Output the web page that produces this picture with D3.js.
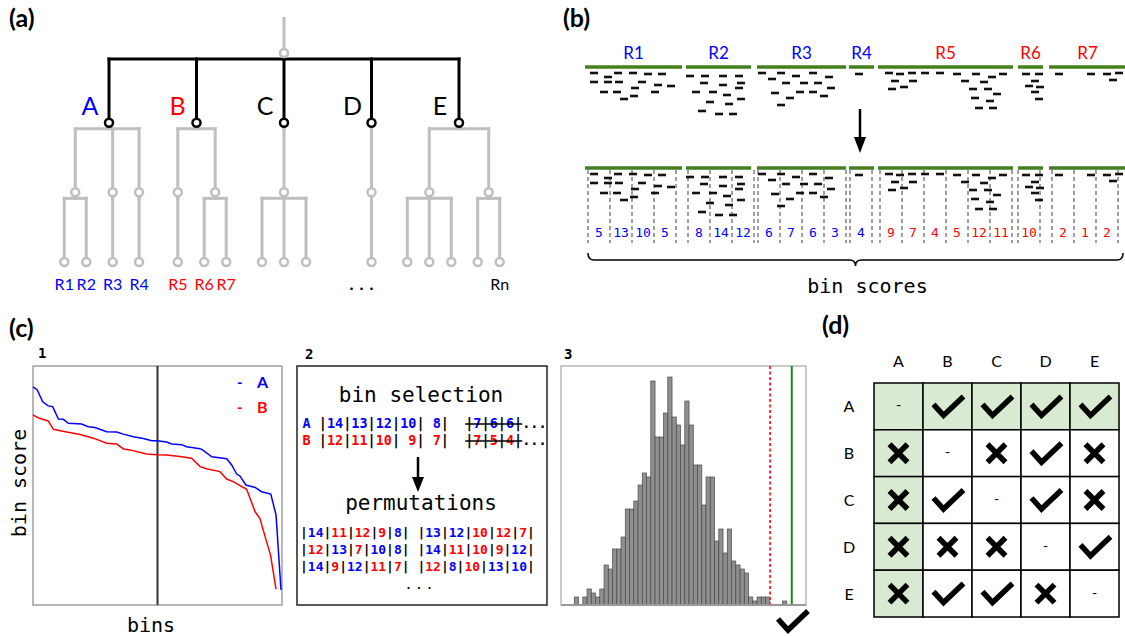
<!DOCTYPE html>
<html>
<head>
<meta charset="utf-8">
<script src="https://cdn.jsdelivr.net/npm/d3@7"></script>
<style>
  body { margin: 0; background: #fff; }
  svg { display: block; }
</style>
</head>
<body>
<svg width="1125" height="636"></svg>
<script>
const BLUE = "#0000ff", RED = "#ff0000", GRAY = "#bfbfbf", BARGREEN = "#45801f";
const SANS = "Lato, 'Open Sans', sans-serif";
const MONO = "'DejaVu Sans Mono', monospace";

// ---- (a) dendrogram: clusters and the sub-trees below them
const clusterNames = ["A", "B", "C", "D", "E"];
const clusterColors = [BLUE, RED, "#000", "#000", "#000"];
const clusterGroups = [
  [["R1", "R2"], ["R3"], ["R4"]],
  [["R5"], ["R6", "R7"]],
  [["c1", "c2", "c3"]],
  [["d1"]],
  [["e1", "e2", "e3"], ["e4", "Rn"]]
];

// ---- (b) regions, reads ([position, stack depth]) and bin scores
const regionNames = ["R1", "R2", "R3", "R4", "R5", "R6", "R7"];
const regionCluster = [0, 0, 0, 0, 1, 1, 1];
const regionStart = [0, 101, 172, 264, 293, 433, 464];
const regionEnd = [97, 166, 261, 289, 428, 458, 541];
const readsR1 = [[9,0],[23,4],[33,0],[48,0],[63,1],[77,1],[9,9],[23,9],[34,9],[57,9],[50,15],[73,12],[86,13],[19,19],[32,19],[70,19],[39,26],[49,23]];
const readsR2 = [[105,3],[120,3],[138,3],[154,3],[119,10],[138,12],[156,10],[154,15],[111,19],[128,19],[142,22],[156,26],[125,29],[144,31],[117,38],[134,41],[148,41]];
const readsR3 = [[177,0],[187,6],[196,0],[211,3],[228,0],[244,4],[201,10],[219,10],[233,10],[246,15],[190,20],[205,25],[215,19],[228,19],[239,23],[196,32]];
const readsR4 = [[274,1]];
const readsR5 = [[304,0],[315,1],[327,0],[340,0],[355,0],[372,1],[391,1],[407,4],[418,1],[310,8],[328,8],[380,8],[399,9],[307,16],[319,14],[388,16],[403,16],[412,21],[390,25],[405,28],[394,35],[408,35]];
const readsR6 = [[441,1],[454,1],[450,8],[444,13],[455,14],[450,19],[454,26]];
const readsR7 = [[474,1],[506,1],[522,1],[534,0],[528,7]];
const regionReads = [readsR1, readsR2, readsR3, readsR4, readsR5, readsR6, readsR7];
const binSize = 22;
const binStart = [3, 103, 173, 265, 295, 433, 467];
const binScores = [[5, 13, 10, 5], [8, 14, 12], [6, 7, 6, 3], [4], [9, 7, 4, 5, 12, 11], [10], [2, 1, 2]];

// ---- (c1) sorted bin scores of clusters A and B
const binsA = [0, 1.7, 3.9, 6.1, 7.9, 10.2, 12.2, 14.2, 19.5, 22.2, 24.9, 29.6, 33.6, 36.3, 40.3, 44.3, 47.7, 49.7, 53.7, 55.7, 59.7, 61.7, 67.1, 68.1, 71.8, 77.8, 79.8, 81.8, 83.1, 85.5, 89.2, 91.8, 95.5, 97.6, 99.6];
const scoresA = [9.13, 9.0, 8.5, 8.33, 8.3, 7.78, 7.77, 7.6, 7.57, 7.46, 7.43, 7.25, 7.24, 7.15, 7.04, 6.97, 6.87, 6.87, 6.82, 6.74, 6.71, 6.62, 6.54, 6.49, 6.2, 6.12, 5.86, 5.48, 5.4, 5.02, 4.92, 4.74, 4.64, 3.77, 0.63];
const binsB = [0, 2.5, 6.1, 8.2, 13.5, 18.9, 22.9, 25.6, 29.6, 33.6, 36.3, 38.9, 45.6, 49.7, 53.7, 59.0, 63.7, 67.1, 69.7, 75.1, 77.8, 80.4, 85.8, 89.2, 91.1, 93.8, 95.4, 97.6];
const scoresB = [7.95, 7.81, 7.70, 7.35, 7.24, 7.13, 7.02, 6.93, 6.77, 6.74, 6.53, 6.49, 6.32, 6.29, 6.28, 6.21, 6.14, 5.79, 5.70, 5.58, 5.27, 5.16, 4.84, 3.90, 3.63, 2.65, 2.09, 0.66];

// ---- (c2) bin selection and permutations
const selectedA = [14, 13, 12, 10, 8], droppedA = [7, 6, 6];
const selectedB = [12, 11, 10, 9, 7], droppedB = [7, 5, 4];
const permValues = [[14, 11, 12, 9, 8], [13, 12, 10, 12, 7], [12, 13, 7, 10, 8], [14, 11, 10, 9, 12], [14, 9, 12, 11, 7], [12, 8, 10, 13, 10]];
const permSource = ["ABBBA", "AABBB", "BABAA", "ABBBA", "ABABB", "BABAA"];

// ---- (c3) permutation histogram
const histStart = 3.13;
const histCounts = [2,0,2,4,3,2,4,10,9,14,14,17,24,24,26,30,33,32,56,42,42,48,57,47,45,40,51,45,35,35,25,32,32,16,19,13,19,11,10,9,8,2,1,2,2,2,0,0,0,1];
const threshold = 49.2, observed = 54.3;

// ---- (d) pairwise test results
const tableNames = ["A", "B", "C", "D", "E"];
const tableResults = [
  ["-", "y", "y", "y", "y"],
  ["n", "-", "n", "y", "n"],
  ["n", "y", "-", "y", "n"],
  ["n", "n", "n", "-", "y"],
  ["n", "y", "y", "n", "-"]
];

const svg = d3.select("svg");
svg.append("rect").attr("width", 1125).attr("height", 636).attr("fill", "#fff");

function panelLabel(x, y, t) {
  svg.append("text").attr("x", x).attr("y", y).text(t)
    .style("font-family", SANS).style("font-size", "25px").style("font-weight", "bold");
}
panelLabel(9, 27, "(a)");
panelLabel(563, 27, "(b)");
panelLabel(9, 337, "(c)");
panelLabel(822, 334, "(d)");

// ================= (a) =================
const gA = svg.append("g");
const xCluster = d3.scalePoint().domain(clusterNames).range([109, 459]);
const yDepth = d3.scaleLinear().domain([0, 3]).range([53, 262]);

const root = d3.hierarchy({
  name: "root",
  children: clusterNames.map((c, i) => ({
    name: c, idx: i,
    children: clusterGroups[i].map(g => ({ name: "", children: g.map(n => ({ name: n })) }))
  }))
});
const subLayout = d3.cluster().nodeSize([22, 1])
  .separation((a, b) => a.parent === b.parent ? 1 : 1.2);
root.children.forEach(c => {
  subLayout(c);
  const cx = xCluster(c.data.name);
  c.descendants().forEach(n => { n.x += cx; });
});
root.x = d3.mean(root.children, c => c.x);

// root stem
gA.append("line").attr("x1", root.x).attr("x2", root.x)
  .attr("y1", 17).attr("y2", yDepth(0) - 4)
  .attr("stroke", GRAY).attr("stroke-width", 3);

root.descendants().filter(d => d.children).forEach(p => {
  const col = p.depth === 0 ? "#000" : GRAY;
  const by = yDepth(p.depth) + 6;
  const xs = p.children.map(c => c.x);
  const line = (x1, y1, x2, y2) => gA.append("line")
    .attr("x1", x1).attr("y1", y1).attr("x2", x2).attr("y2", y2)
    .attr("stroke", col).attr("stroke-width", 3).attr("stroke-linecap", "square");
  line(p.x, yDepth(p.depth), p.x, by);
  line(d3.min(xs), by, d3.max(xs), by);
  p.children.forEach(c => line(c.x, by, c.x, yDepth(c.depth)));
});

gA.selectAll("circle.node")
  .data(root.descendants())
  .join("circle")
  .attr("class", "node")
  .attr("cx", d => d.x).attr("cy", d => yDepth(d.depth))
  .attr("r", 4)
  .attr("fill", "#fff")
  .attr("stroke", d => d.depth === 1 ? "#000" : GRAY)
  .attr("stroke-width", 2.5);

gA.selectAll("text.cluster")
  .data(root.children)
  .join("text")
  .attr("class", "cluster")
  .attr("x", d => d.x - 19).attr("y", 115)
  .attr("text-anchor", "middle")
  .attr("fill", d => clusterColors[d.data.idx])
  .style("font-family", SANS).style("font-size", "25px")
  .text(d => d.data.name);

gA.selectAll("text.leaf")
  .data(root.leaves().filter(d => d.data.name[0] === "R"))
  .join("text")
  .attr("class", "leaf")
  .attr("x", d => d.x).attr("y", 290)
  .attr("text-anchor", "middle")
  .attr("fill", d => clusterColors[d.parent.parent.data.idx])
  .style("font-family", SANS).style("font-size", "16px")
  .text(d => d.data.name);

const dLeaf = root.leaves().find(d => d.data.name === "d1");
gA.append("text").attr("x", dLeaf.x - 7).attr("y", 290)
  .attr("text-anchor", "middle")
  .style("font-family", SANS).style("font-size", "17px").style("font-weight", "bold")
  .style("letter-spacing", "6px").text("...");

// ================= (b) =================
const gB = svg.append("g");
const xGen = d3.scaleLinear().domain([0, 541]).range([585, 1126]);
const yStack = d3.scaleLinear().domain([0, 40]).range([0, 40]);
const tracks = [{ bar: 67, reads: 73 }, { bar: 168, reads: 174 }];
const regionColor = i => regionCluster[i] === 0 ? BLUE : RED;

gB.selectAll("text.region")
  .data(regionNames)
  .join("text")
  .attr("class", "region")
  .attr("x", (d, i) => xGen((regionStart[i] + regionEnd[i]) / 2))
  .attr("y", 59)
  .attr("text-anchor", "middle")
  .attr("fill", (d, i) => regionColor(i))
  .style("font-family", SANS).style("font-size", "17px")
  .text(d => d);

// bin boundaries (bottom track)
regionNames.forEach((r, i) => {
  const n = binScores[i].length;
  d3.range(n + 1).forEach(k => {
    const x = xGen(binStart[i] + k * binSize);
    gB.append("line").attr("x1", x).attr("x2", x).attr("y1", 170).attr("y2", 243)
      .attr("stroke", "#808080").attr("stroke-width", 1.5).attr("stroke-dasharray", "4,3");
  });
  binScores[i].forEach((s, k) => {
    gB.append("text")
      .attr("x", xGen(binStart[i] + (k + 0.5) * binSize)).attr("y", 237)
      .attr("text-anchor", "middle")
      .attr("fill", regionColor(i))
      .style("font-family", MONO).style("font-size", "13px")
      .text(s);
  });
});

tracks.forEach(tr => {
  regionNames.forEach((r, i) => {
    gB.append("line")
      .attr("x1", xGen(regionStart[i])).attr("x2", xGen(regionEnd[i]))
      .attr("y1", tr.bar).attr("y2", tr.bar)
      .attr("stroke", BARGREEN).attr("stroke-width", 3.5);
    gB.selectAll(null)
      .data(regionReads[i])
      .join("rect")
      .attr("x", d => xGen(d[0]) - 4)
      .attr("y", d => tr.reads + yStack(d[1]) - 1.3)
      .attr("width", 8).attr("height", 2.6)
      .attr("fill", "#111");
  });
});

// arrow between tracks
gB.append("line").attr("x1", 860).attr("x2", 860).attr("y1", 109).attr("y2", 140)
  .attr("stroke", "#000").attr("stroke-width", 2.5);
gB.append("path").attr("d", "M854,137 L866,137 L860,153 Z").attr("fill", "#000");

// brace
const bx0 = xGen(binStart[0]), bx1 = 1123, bm = (bx0 + bx1) / 2;
gB.append("path")
  .attr("d", `M${bx0},253 Q${bx0},260 ${bx0 + 6},260 L${bm - 6},260 Q${bm},260 ${bm},266 Q${bm},260 ${bm + 6},260 L${bx1 - 6},260 Q${bx1},260 ${bx1},253`)
  .attr("fill", "none").attr("stroke", "#000").attr("stroke-width", 1.5);
gB.append("text").attr("x", bm + 12).attr("y", 293).attr("text-anchor", "middle")
  .style("font-family", MONO).style("font-size", "20px").text("bin scores");

// ================= (c1) =================
const g1 = svg.append("g");
const x1 = d3.scaleLinear().domain([0, 100]).range([33, 282]);
const y1 = d3.scaleLinear().domain([0, 10]).range([605, 366]);
g1.append("text").attr("x", 38).attr("y", 358)
  .style("font-family", MONO).style("font-size", "14px").style("font-weight", "bold").text("1");
g1.append("rect").attr("x", 33).attr("y", 366).attr("width", 249).attr("height", 239)
  .attr("fill", "none").attr("stroke", "#a0a0a0").attr("stroke-width", 1.5);
g1.append("line").attr("x1", x1(50)).attr("x2", x1(50)).attr("y1", 366).attr("y2", 605)
  .attr("stroke", "#333").attr("stroke-width", 2);
const lineGen = d3.line().x(d => x1(d[0])).y(d => y1(d[1]));
g1.append("path").attr("d", lineGen(d3.zip(binsB, scoresB)))
  .attr("fill", "none").attr("stroke", RED).attr("stroke-width", 1.5);
g1.append("path").attr("d", lineGen(d3.zip(binsA, scoresA)))
  .attr("fill", "none").attr("stroke", BLUE).attr("stroke-width", 1.5);
[["A", BLUE, 388], ["B", RED, 413]].forEach(([t, c, y]) => {
  g1.append("text").attr("x", 237).attr("y", y).attr("fill", c)
    .style("font-family", SANS).style("font-size", "15px").style("font-weight", "bold").text("-");
  g1.append("text").attr("x", 257).attr("y", y).attr("fill", c)
    .style("font-family", SANS).style("font-size", "16px").style("font-weight", "bold").text(t);
});
g1.append("text").attr("transform", "translate(26,483) rotate(-90)")
  .attr("text-anchor", "middle")
  .style("font-family", MONO).style("font-size", "20px").text("bin score");
g1.append("text").attr("x", 151).attr("y", 632).attr("text-anchor", "middle")
  .style("font-family", MONO).style("font-size", "20px").text("bins");

// ================= (c2) =================
const g2 = svg.append("g");
g2.append("text").attr("x", 305).attr("y", 359)
  .style("font-family", MONO).style("font-size", "14px").style("font-weight", "bold").text("2");
g2.append("rect").attr("x", 297).attr("y", 366).attr("width", 250).attr("height", 239)
  .attr("fill", "none").attr("stroke", "#222").attr("stroke-width", 1.5);
g2.append("text").attr("x", 421).attr("y", 402).attr("text-anchor", "middle")
  .style("font-family", MONO).style("font-size", "21px").text("bin selection");
g2.append("text").attr("x", 421).attr("y", 510).attr("text-anchor", "middle")
  .style("font-family", MONO).style("font-size", "21px").text("permutations");

function groupParts(vals, colorOf, pad) {
  const parts = [];
  vals.forEach((v, k) => {
    parts.push(["|", "#000"]);
    parts.push([pad ? String(v).padStart(2) : String(v), colorOf(k)]);
  });
  parts.push(["|", "#000"]);
  return parts;
}
function monoText(x, y, size, parts) {
  const t = g2.append("text").attr("x", x).attr("y", y)
    .style("font-family", MONO).style("font-size", size + "px").style("font-weight", "bold")
    .style("white-space", "pre");
  parts.forEach(p => t.append("tspan").attr("fill", p[1]).text(p[0]));
  return t;
}
[["A", selectedA, droppedA, BLUE, 428], ["B", selectedB, droppedB, RED, 445]].forEach(([name, sel, drop, col, y]) => {
  const t = monoText(302.5, y, 13.5, [[name + " ", col]].concat(groupParts(sel, () => col, true)));
  const w = t.node().getComputedTextLength();
  const cw = w / 18;
  const d = monoText(302.5 + 20 * cw, y, 13.5, groupParts(drop, () => col, false));
  const dw = d.node().getComputedTextLength();
  monoText(302.5 + 20 * cw + dw, y, 13.5, [["...", "#000"]]);
  g2.append("line").attr("x1", 302.5 + 20 * cw).attr("x2", 302.5 + 20 * cw + dw)
    .attr("y1", y - 4).attr("y2", y - 4).attr("stroke", "#000").attr("stroke-width", 1.5);
});
g2.append("line").attr("x1", 418).attr("x2", 418).attr("y1", 457).attr("y2", 480)
  .attr("stroke", "#000").attr("stroke-width", 2.5);
g2.append("path").attr("d", "M412,477 L424,477 L418,492 Z").attr("fill", "#000");

const permRowY = [537, 554, 571];
permRowY.forEach((y, r) => {
  const a = 2 * r, b = 2 * r + 1;
  const colorOf = s => k => permSource[s][k] === "A" ? BLUE : RED;
  const parts = groupParts(permValues[a], colorOf(a), false)
    .concat([[" ", "#000"]])
    .concat(groupParts(permValues[b], colorOf(b), false));
  monoText(300, y, 13, parts);
});
g2.append("text").attr("x", 420).attr("y", 589).attr("text-anchor", "middle")
  .style("font-family", MONO).style("font-size", "14px").style("letter-spacing", "2px").text("...");

// ================= (c3) =================
const g3 = svg.append("g");
const xh = d3.scaleLinear().domain([0, 57.65]).range([561, 806]);
const yh = d3.scaleLinear().domain([0, 60]).range([605, 365]);
g3.append("text").attr("x", 564).attr("y", 359)
  .style("font-family", MONO).style("font-size", "14px").style("font-weight", "bold").text("3");
g3.append("rect").attr("x", 561).attr("y", 366).attr("width", 245).attr("height", 239)
  .attr("fill", "none").attr("stroke", "#a6a6a6").attr("stroke-width", 1.2);
g3.selectAll("rect.bar")
  .data(histCounts.map((c, i) => ({ c, x0: histStart + i })).filter(d => d.c > 0))
  .join("rect")
  .attr("class", "bar")
  .attr("x", d => xh(d.x0)).attr("width", d => xh(d.x0 + 1) - xh(d.x0))
  .attr("y", d => yh(d.c)).attr("height", d => yh(0) - yh(d.c))
  .attr("fill", "#8f8f8f").attr("stroke", "#4a4a4a").attr("stroke-width", 0.7);
g3.append("line").attr("x1", 561).attr("x2", 806).attr("y1", 605).attr("y2", 605)
  .attr("stroke", "#999").attr("stroke-width", 2);
g3.append("line").attr("x1", xh(threshold)).attr("x2", xh(threshold)).attr("y1", 366).attr("y2", 604)
  .attr("stroke", "#ff2020").attr("stroke-width", 1.8).attr("stroke-dasharray", "3,2.5");
g3.append("line").attr("x1", xh(observed)).attr("x2", xh(observed)).attr("y1", 366).attr("y2", 604)
  .attr("stroke", "#1a8c1a").attr("stroke-width", 2);

const checkPath = "M-14,-2 L-4,9 L16,-10";
const crossPath = "M-9,-9 L9,9 M9,-9 L-9,9";
g3.append("path").attr("d", checkPath).attr("transform", "translate(792,621)")
  .attr("fill", "none").attr("stroke", "#000").attr("stroke-width", 5.5);

// ================= (d) =================
const gD = svg.append("g");
const xc = d3.scaleBand().domain(tableNames).range([874, 1119]);
const yr = d3.scaleBand().domain(tableNames).range([383, 617]);
const cells = [];
tableResults.forEach((row, i) => row.forEach((v, j) => cells.push({ r: tableNames[i], c: tableNames[j], i, j, v })));
gD.selectAll("rect.cell")
  .data(cells)
  .join("rect")
  .attr("class", "cell")
  .attr("x", d => xc(d.c)).attr("y", d => yr(d.r))
  .attr("width", xc.bandwidth()).attr("height", yr.bandwidth())
  .attr("fill", d => (d.i === 0 || d.j === 0) ? "#d9ead3" : "#fff")
  .attr("stroke", "#000").attr("stroke-width", 1.5);
cells.forEach(d => {
  const cx = xc(d.c) + xc.bandwidth() / 2, cy = yr(d.r) + yr.bandwidth() / 2;
  if (d.v === "-") {
    gD.append("text").attr("x", cx).attr("y", cy + 4).attr("text-anchor", "middle")
      .style("font-family", SANS).style("font-size", "14px").text("-");
  } else {
    gD.append("path").attr("d", d.v === "y" ? checkPath : crossPath)
      .attr("transform", `translate(${cx},${cy})`)
      .attr("fill", "none").attr("stroke", "#000").attr("stroke-width", 5.5);
  }
});
gD.selectAll("text.col")
  .data(tableNames)
  .join("text")
  .attr("class", "col")
  .attr("x", d => xc(d) + xc.bandwidth() / 2).attr("y", 367)
  .attr("text-anchor", "middle")
  .style("font-family", SANS).style("font-size", "16px")
  .text(d => d);
gD.selectAll("text.row")
  .data(tableNames)
  .join("text")
  .attr("class", "row")
  .attr("x", 849).attr("y", d => yr(d) + yr.bandwidth() / 2 + 6)
  .attr("text-anchor", "middle")
  .style("font-family", SANS).style("font-size", "16px")
  .text(d => d);
</script>
</body>
</html>
